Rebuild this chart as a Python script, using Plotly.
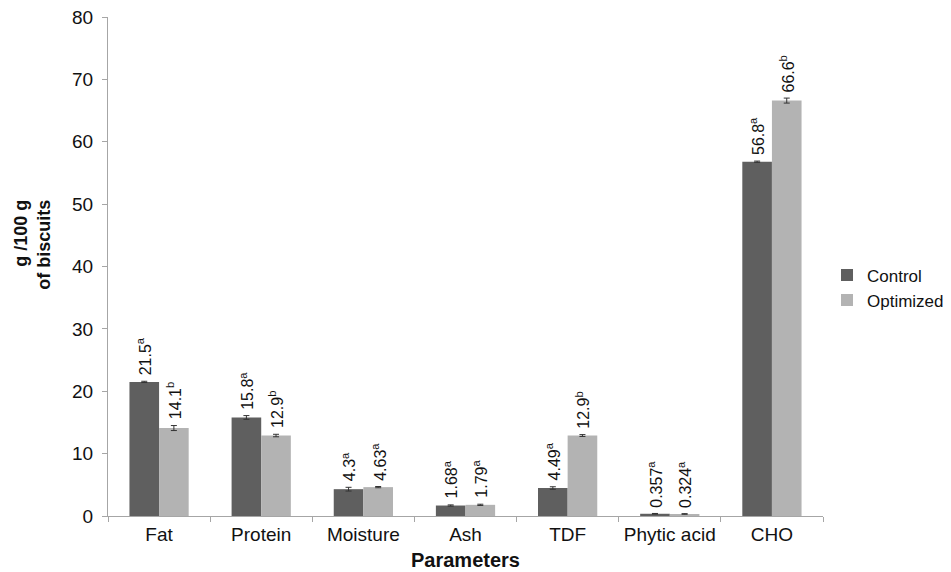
import plotly.graph_objects as go

categories = ["Fat", "Protein", "Moisture", "Ash", "TDF", "Phytic acid", "CHO"]
control = [21.5, 15.8, 4.3, 1.68, 4.49, 0.357, 56.8]
optimized = [14.1, 12.9, 4.63, 1.79, 12.9, 0.324, 66.6]
control_err = [0.1, 0.3, 0.3, 0.1, 0.2, 0.05, 0.1]
optimized_err = [0.4, 0.2, 0.1, 0.1, 0.15, 0.05, 0.4]
control_sig = ["a", "a", "a", "a", "a", "a", "a"]
optimized_sig = ["b", "b", "a", "a", "b", "a", "b"]

font_family = "Liberation Sans, Arial, sans-serif"

fig = go.Figure()
fig.add_trace(go.Bar(
    x=categories, y=control, name="Control",
    marker=dict(color="#5f5f5f", line=dict(width=0)),
    error_y=dict(type="data", array=control_err, color="#333333", thickness=1, width=3),
))
fig.add_trace(go.Bar(
    x=categories, y=optimized, name="Optimized",
    marker=dict(color="#b3b3b3", line=dict(width=0)),
    error_y=dict(type="data", array=optimized_err, color="#333333", thickness=1, width=3),
))

# value labels (rotated) above each bar
annotations = []
for vals, errs, sig, shift in [(control, control_err, control_sig, -15),
                               (optimized, optimized_err, optimized_sig, 15)]:
    for c, v, e, s in zip(categories, vals, errs, sig):
        annotations.append(dict(
            x=c, y=v + e, xref="x", yref="y",
            text=f"{v:g}<sup>{s}</sup>", showarrow=False,
            textangle=-90, xanchor="center", yanchor="bottom",
            xshift=shift, yshift=4,
            font=dict(size=16, color="#111111"),
        ))

# axis titles
annotations.append(dict(
    x=0.5, y=-0.088, xref="paper", yref="paper",
    text="<b>Parameters</b>", showarrow=False,
    xanchor="center", yanchor="middle",
    font=dict(size=20, color="#111111"),
))
annotations.append(dict(
    x=-0.106, y=0.544, xref="paper", yref="paper",
    text="<b>g /100 g<br>of biscuits</b>", showarrow=False,
    textangle=-90, align="right",
    xanchor="center", yanchor="middle",
    font=dict(size=18, color="#111111"),
))

fig.update_layout(
    width=943, height=564,
    margin=dict(l=100, r=128, t=9, b=56, autoexpand=False),
    paper_bgcolor="white", plot_bgcolor="white",
    font=dict(family=font_family, color="#111111"),
    barmode="group", bargap=0.42, bargroupgap=0,
    legend=dict(x=1.0056, xanchor="left", y=0.457, yanchor="middle",
                font=dict(size=17), itemwidth=30, tracegroupgap=2),
    showlegend=True,
    annotations=annotations,
)
fig.update_xaxes(
    showline=True, linecolor="#a6a6a6", linewidth=1,
    ticks="outside", tickson="boundaries", ticklen=5, tickcolor="#a6a6a6",
    tickfont=dict(size=19), ticklabelstandoff=1, tickangle=0, automargin=False,
    showgrid=False,
)
fig.update_yaxes(
    range=[0, 80], dtick=10,
    showline=True, linecolor="#a6a6a6", linewidth=1,
    ticks="outside", ticklen=5, tickcolor="#a6a6a6",
    tickfont=dict(size=19), ticklabelstandoff=5, automargin=False,
    ticklabeloverflow="allow",
    showgrid=False, zeroline=False,
)

fig.write_html("out.html")
